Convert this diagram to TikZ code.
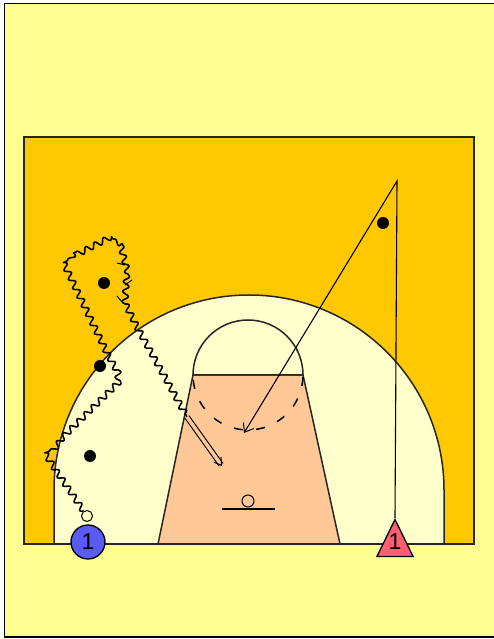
\documentclass[tikz,border=0pt]{standalone}
\usepackage{fontspec}
\setmainfont{Liberation Sans}
\usetikzlibrary{arrows.meta,positioning,shapes.geometric,calc,decorations.pathmorphing}
\definecolor{PageYellow}{RGB}{255,255,145}
\definecolor{CourtOrange}{RGB}{255,200,0}
\definecolor{ArcCream}{RGB}{255,255,204}
\definecolor{KeyPeach}{RGB}{255,200,150}
\definecolor{PlayerBlue}{RGB}{90,90,245}
\definecolor{PlayerRed}{RGB}{255,95,110}
\tikzset{
  courtline/.style={draw=black!85,line width=1.5pt},
  spot/.style={circle,fill=black,minimum size=12pt,inner sep=0pt},
  ballmark/.style={circle,draw=black,fill=ArcCream,line width=1pt,minimum size=11pt,inner sep=0pt},
  offense/.style={circle,draw=black,fill=PlayerBlue,line width=1.3pt,minimum size=34pt,inner sep=0pt,
    font=\fontsize{23}{23}\selectfont},
  defense/.style={isosceles triangle,isosceles triangle apex angle=52,shape border rotate=90,
    draw=black,fill=PlayerRed,line width=1.3pt,minimum height=37pt,inner sep=0pt,
    font=\fontsize{23}{23}\selectfont},
  cutline/.style={line width=1.1pt,-{Straight Barb[length=8pt,width=12pt,line width=1pt]}},
  dribble/.style={line width=1.6pt,line join=round,decorate,
    decoration={coil,aspect=0,segment length=10pt,amplitude=3pt}},
  shotline/.style={line width=1.1pt,double=KeyPeach,double distance=3.5pt,
    -{Straight Barb[length=7pt,width=9pt,line width=1pt]}}
}
\begin{document}
\begin{tikzpicture}[x=1pt,y=1pt]
\useasboundingbox (0,0) rectangle (493,639);

\draw[line width=1.6pt,fill=PageYellow] (4.5,2) rectangle (496,635.5);
\draw[courtline,fill=CourtOrange] (24,95) rectangle (474,502);
\draw[courtline,fill=ArcCream] (54,95) -- (54,149) arc[start angle=180,end angle=0,radius=195] -- (444,95) -- cycle;
\draw[courtline,fill=KeyPeach] (158,95) -- (193,264) -- (303,264) -- (340,95) -- cycle;
\draw[courtline,fill=ArcCream] (193,264) arc[start angle=180,end angle=0,radius=55] -- cycle;
\draw[line width=1.5pt,dash pattern=on 9pt off 13.4pt,dash phase=17.4pt] (193,264) arc[start angle=180,end angle=360,radius=55];

\node[circle,draw=black,line width=1pt,minimum size=12pt,inner sep=0pt] (rim) at (248,138) {};
\coordinate (boardl) at (222,130);
\coordinate (boardr) at (275,130);
\draw[line width=1.2pt] (boardl) -- (boardr);

\node[spot] (spota) at (104,356) {};
\node[spot] (spotb) at (100,273) {};
\node[spot] (spotc) at (90,183) {};
\node[spot] (spotd) at (383,416) {};

\node[offense] (guard) at (88,97) {1};
\node[ballmark] (ball) at (87,123) {};
\node[defense,anchor=apex] (marker) at (395,121) {};
\node (markerno) at (395,97) {\fontsize{23}{23}\selectfont 1};

\coordinate (turn) at (397,458);
\coordinate (stop) at (244,206);
\draw[cutline] (marker.apex) -- (turn) -- (stop);

\coordinate (shot) at (187,222);
\coordinate (target) at (222,173);
\draw[dribble] (ball) -- (57,167) -- (48,181) -- (63,202) -- (118,256) -- (118,266) -- (108,284)
  -- (67,369) -- (72,382) -- (105,399) -- (120,396) -- (127,369) -- (125,336) -- (137,312) -- (shot);
\draw[shotline] (shot) -- (target);

\foreach \xa/\ya/\xb/\yb in {117/376/125/374,125/354/132/359,117/343/122/337}
  \draw[line width=1pt] (\xa,\ya) -- (\xb,\yb);

\end{tikzpicture}
\end{document}
